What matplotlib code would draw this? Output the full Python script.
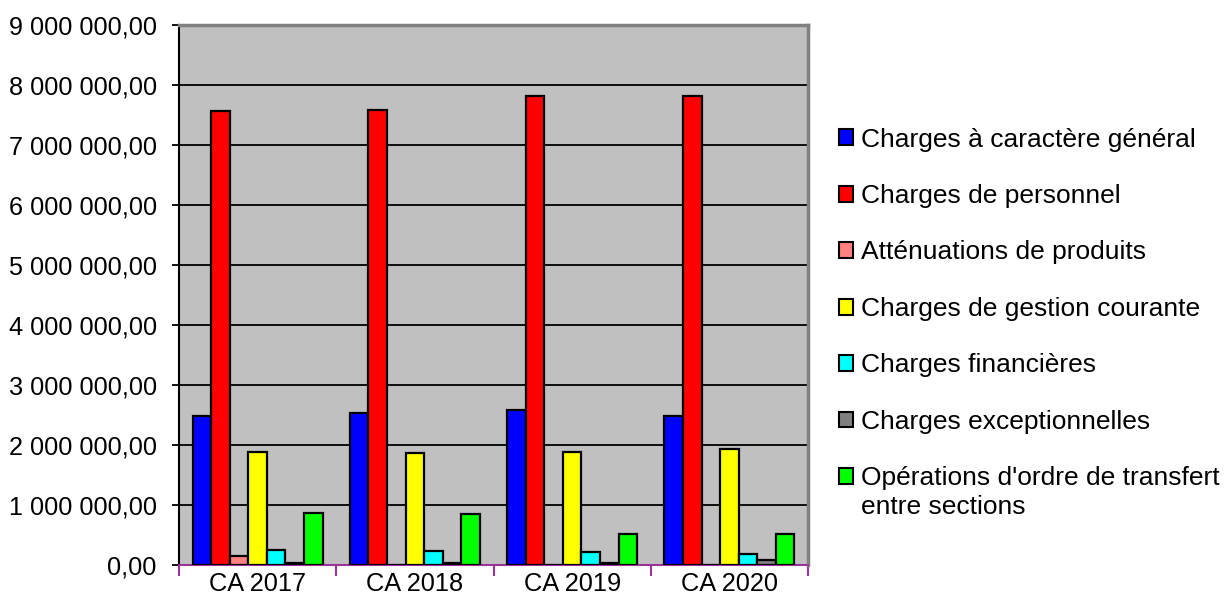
import matplotlib.pyplot as plt
import matplotlib.ticker as mticker
from matplotlib.patches import Patch
import numpy as np

plt.rcParams['font.family'] = ['Liberation Sans', 'DejaVu Sans']

# Data (values in euros)
years = ['CA 2017', 'CA 2018', 'CA 2019', 'CA 2020']
series = ['Charges à caractère général', 'Charges de personnel',
          'Atténuations de produits', 'Charges de gestion courante',
          'Charges financières', 'Charges exceptionnelles',
          "Opérations d'ordre de transfert"]
last_label_cont = 'entre sections'
charges_generales = [2490000, 2540000, 2580000, 2490000]
charges_personnel = [7560000, 7580000, 7820000, 7820000]
attenuations = [150000, 0, 0, 0]
gestion_courante = [1880000, 1860000, 1880000, 1940000]
financieres = [250000, 230000, 210000, 190000]
exceptionnelles = [40000, 30000, 30000, 80000]
ordre_transfert = [870000, 850000, 520000, 520000]

values = [charges_generales, charges_personnel, attenuations, gestion_courante,
          financieres, exceptionnelles, ordre_transfert]
colors = ['#0000FF', '#FF0000', '#FF8080', '#FFFF00', '#00FFFF', '#808080', '#00FF00']


def fmt(v, pos):
    s = '{:,.2f}'.format(v)
    return s.replace(',', ' ').replace('.', ',')


fig = plt.figure(figsize=(12.24, 6.03), dpi=100)
ax = fig.add_axes([179 / 1224, 1 - 565 / 603, (808 - 179) / 1224, (565 - 25) / 603])
ax.set_facecolor('#C0C0C0')

x = np.arange(len(years))
w = 0.118
for i, (vals, c) in enumerate(zip(values, colors)):
    ax.bar(x + (i - 3) * w, vals, width=w, color=c, edgecolor='black',
           linewidth=1.6, zorder=3)

ax.set_xlim(-0.5, 3.5)
ax.set_ylim(0, 9000000)
ax.yaxis.set_major_locator(mticker.MultipleLocator(1000000))
ax.yaxis.set_major_formatter(mticker.FuncFormatter(fmt))
ax.grid(axis='y', color='black', linewidth=1.3, zorder=1)

ax.set_xticks(x)
ax.set_xticklabels(years)
ax.set_xticks(np.arange(-0.5, 4.0, 1.0), minor=True)
ax.tick_params(axis='x', which='major', length=0, pad=5, labelsize=18.3)
ax.tick_params(axis='x', which='minor', length=8, width=1.5, color='#993399', direction='out')
ax.tick_params(axis='y', length=5, width=1.3, color='black', labelsize=18.2, pad=11)

ax.spines['left'].set_color('black')
ax.spines['left'].set_linewidth(1.5)
ax.spines['bottom'].set_color('#993399')
ax.spines['bottom'].set_linewidth(1.5)
for s in ['top', 'right']:
    ax.spines[s].set_color('#808080')
    ax.spines[s].set_linewidth(2.5)

handles = [Patch(facecolor=c, edgecolor='black', linewidth=1.5) for c in colors]
leg = fig.legend(handles, series, loc='upper left', bbox_to_anchor=(828 / 1224, 1 - 117 / 603),
                 frameon=False, fontsize=19, handlelength=0.55, handleheight=0.55,
                 handletextpad=0.3, labelspacing=1.23, borderaxespad=0)

# second line of the last legend entry, under its first line
fig.canvas.draw()
bb = leg.get_texts()[-1].get_window_extent().transformed(fig.transFigure.inverted())
fig.text(bb.x0, bb.y0 - 0.0085, last_label_cont, fontsize=19, va='top', ha='left')

fig.savefig('out.png', dpi=100)
